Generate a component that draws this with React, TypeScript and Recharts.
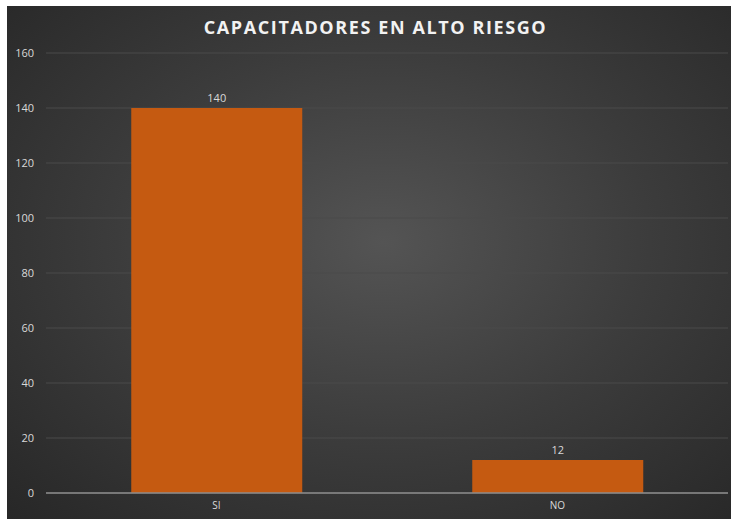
import { BarChart, Bar, XAxis, YAxis, CartesianGrid, LabelList } from "recharts";

const categories = ["SI", "NO"];
const values = [140, 12];
const yTicks = [0, 20, 40, 60, 80, 100, 120, 140, 160];

const data = categories.map((name, i) => ({ name, value: values[i] }));

const font = "'Open Sans', 'Liberation Sans', sans-serif";

export default function App() {
  return (
    <div
      style={{
        position: "absolute",
        left: 7,
        top: 6,
        width: 724,
        height: 513,
        background: "radial-gradient(ellipse at 52% 46%, #545454 0%, #3c3c3c 50%, #272727 100%)",
        fontFamily: font,
      }}
    >
      <div
        style={{
          position: "absolute",
          top: 9,
          left: 0,
          width: 737,
          textAlign: "center",
          color: "#f2f2f2",
          fontWeight: 700,
          fontSize: 18,
          letterSpacing: 1.6,
        }}
      >
        CAPACITADORES EN ALTO RIESGO
      </div>
      <BarChart
        width={724}
        height={513}
        data={data}
        margin={{ top: 47, right: 3, bottom: 0, left: 0 }}
        barCategoryGap="25%"
      >
        <CartesianGrid vertical={false} stroke="#4a4a4a" strokeWidth={1} />
        <XAxis
          dataKey="name"
          height={26}
          tickLine={false}
          axisLine={{ stroke: "#8c8c8c", strokeWidth: 1.5 }}
          tick={{ fill: "#d9d9d9", fontSize: 10, fontFamily: font }}
          tickMargin={3}
        />
        <YAxis
          width={39}
          domain={[0, 160]}
          ticks={yTicks}
          axisLine={false}
          tickLine={false}
          tickMargin={6}
          tick={{ fill: "#d9d9d9", fontSize: 11, fontFamily: font }}
        />
        <Bar dataKey="value" fill="#c55a11" isAnimationActive={false}>
          <LabelList
            dataKey="value"
            position="top"
            offset={6}
            fill="#d9d9d9"
            fontSize={11}
            fontFamily={font}
          />
        </Bar>
      </BarChart>
    </div>
  );
}
